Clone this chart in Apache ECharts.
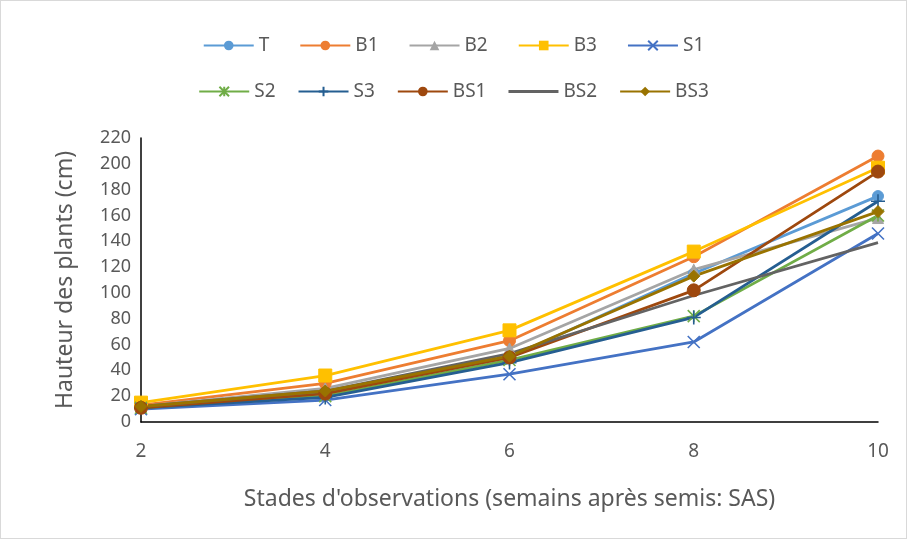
<!DOCTYPE html>
<html><head><meta charset="utf-8">
<script src="https://cdn.jsdelivr.net/npm/echarts@6/dist/echarts.min.js"></script>
<style>html,body{margin:0;padding:0;background:#fff}#c{width:905px;height:537px;border:1px solid #d9d9d9}</style>
</head><body><div id="c"></div>
<script>
const categories = ['2','4','6','8','10'];
const T   = [12, 22, 50, 115, 175];
const B1  = [13, 30, 63, 128, 206];
const B2  = [12, 26, 57, 118, 158];
const B3  = [15, 36, 71, 132, 197];
const S1  = [10, 17, 37, 62, 146];
const S2  = [11, 20, 48, 82, 160];
const S3  = [11, 19, 46, 81, 171];
const BS1 = [11, 22, 50, 102, 194];
const BS2 = [12, 24, 53, 98, 139];
const BS3 = [12, 24, 51, 113, 163];
const yTicks = [0,20,40,60,80,100,120,140,160,180,200,220];

const X_PATH = 'path://M0,0L10,10M10,0L0,10';
const STAR_PATH = 'path://M0,0L10,10M10,0L0,10M5,0L5,10';
const PLUS_PATH = 'path://M5,0L5,10M0,5L10,5';
const LINE_ICON = 'path://M0,0L50,0L50,3L0,3Z';

const defs = [
  ['T', T, '#5B9BD5', 'circle', 11, false],
  ['B1', B1, '#ED7D31', 'circle', 12, false],
  ['B2', B2, '#A5A5A5', 'triangle', 11, false],
  ['B3', B3, '#FFC000', 'rect', 13, false],
  ['S1', S1, '#4472C4', X_PATH, 12, true],
  ['S2', S2, '#70AD47', STAR_PATH, 12, true],
  ['S3', S3, '#255E91', PLUS_PATH, 14, true],
  ['BS1', BS1, '#9E480E', 'circle', 13, false],
  ['BS2', BS2, '#636363', 'none', 0, false],
  ['BS3', BS3, '#997300', 'diamond', 12, false]
];

const series = defs.map(([name, data, color, sym, size, stroke]) => ({
  name, type: 'line', data,
  symbol: sym, symbolSize: size, showSymbol: sym !== 'none',
  lineStyle: {color, width: 2.8},
  itemStyle: stroke ? {color: 'rgba(0,0,0,0)', borderColor: color, borderWidth: 1.6} : {color, borderColor: color},
  emphasis: {disabled: true},
  animation: false
}));

const font = 'Noto Sans, sans-serif';
const legendCommon = {
  itemWidth: 50, itemHeight: 12,
  textStyle: {color: '#595959', fontSize: 19, fontFamily: font},
  left: 'center'
};

const chart = echarts.init(document.getElementById('c'));
chart.setOption({
  backgroundColor: '#fff',
  animation: false,
  legend: [
    Object.assign({}, legendCommon, {top: 30, itemGap: 30, data: ['T','B1','B2','B3','S1']}),
    Object.assign({}, legendCommon, {top: 76, itemGap: 22, data: ['S2','S3','BS1',{name:'BS2', icon: LINE_ICON},'BS3']})
  ],
  grid: {left: 140, right: 28, top: 137, bottom: 116},
  xAxis: {
    type: 'category', data: categories, boundaryGap: false,
    name: "Stades d'observations (semains après semis: SAS)",
    nameLocation: 'middle', nameGap: 66,
    nameTextStyle: {color: '#595959', fontSize: 23, fontFamily: font},
    axisLine: {lineStyle: {color: '#000', width: 1.5}},
    axisTick: {show: false},
    axisLabel: {color: '#595959', fontSize: 19, fontFamily: font, margin: 20}
  },
  yAxis: {
    type: 'value', min: 0, max: 220, interval: 20,
    name: 'Hauteur des plants (cm)',
    nameLocation: 'middle', nameGap: 64,
    nameTextStyle: {color: '#595959', fontSize: 23, fontFamily: font},
    axisLine: {show: true, lineStyle: {color: '#000', width: 1.5}},
    axisTick: {show: false},
    splitLine: {show: false},
    axisLabel: {color: '#595959', fontSize: 18, fontFamily: font, margin: 10,
      formatter: v => yTicks.includes(v) ? String(v) : ''}
  },
  series
});
</script></body></html>
